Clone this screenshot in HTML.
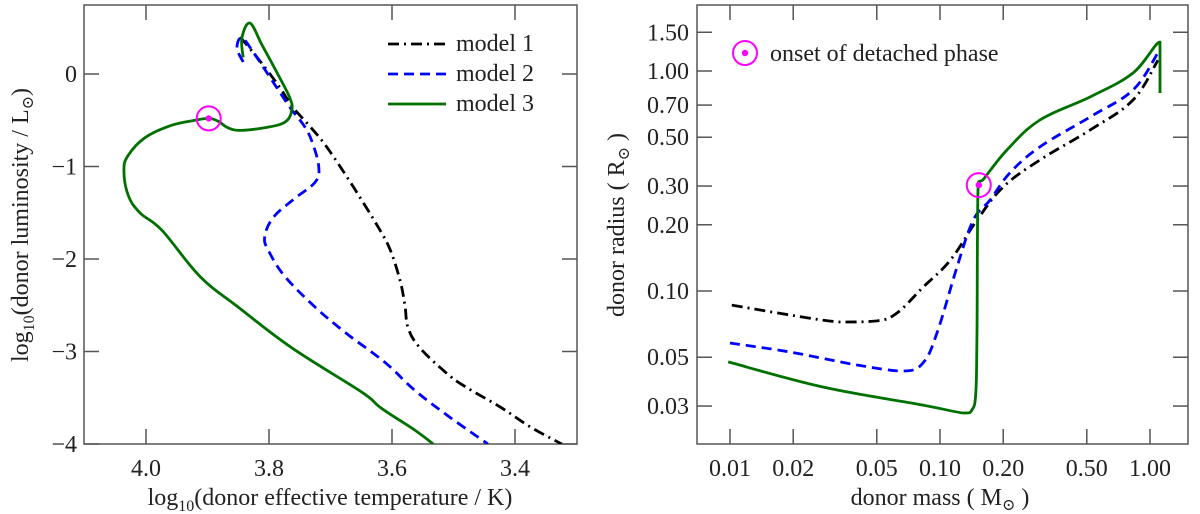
<!DOCTYPE html>
<html><head><meta charset="utf-8">
<style>
html,body{margin:0;padding:0;background:#fff;}
svg{display:block;}
svg text{font-family:"Liberation Serif","DejaVu Serif",serif;}
</style></head>
<body>
<svg id="chart" width="1200" height="514" viewBox="0 0 1200 514" xmlns="http://www.w3.org/2000/svg"></svg>
<script>
// ---- Left panel data (HR diagram) ----
const hrM1T = [3.847,3.823,3.803,3.782,3.761,3.733,3.706,3.663,3.623,3.603,3.587,3.579,3.574,3.556,3.512,3.481,3.424,3.374,3.324];
const hrM1L = [0.40,0.21,0.04,-0.15,-0.36,-0.57,-0.79,-1.22,-1.65,-1.90,-2.23,-2.50,-2.74,-2.95,-3.23,-3.38,-3.60,-3.82,-4.0];
const hrM2T = [3.842,3.852,3.844,3.823,3.790,3.766,3.741,3.728,3.719,3.725,3.761,3.793,3.807,3.800,3.774,3.725,3.675,3.611,3.563,3.506,3.444];
const hrM2L = [0.13,0.28,0.39,0.21,-0.12,-0.36,-0.58,-0.77,-1.01,-1.17,-1.36,-1.55,-1.76,-1.92,-2.19,-2.52,-2.80,-3.12,-3.42,-3.71,-4.0];
const hrM3T = [3.842,3.844,3.831,3.811,3.785,3.766,3.763,3.774,3.807,3.847,3.867,3.883,3.898,3.920,3.961,4.002,4.029,4.036,4.029,4.010,3.974,3.912,3.850,3.763,3.649,3.618,3.563,3.533];
const hrM3L = [0.18,0.39,0.55,0.31,-0.01,-0.26,-0.39,-0.52,-0.58,-0.61,-0.58,-0.51,-0.48,-0.50,-0.56,-0.69,-0.88,-1.04,-1.31,-1.50,-1.69,-2.19,-2.52,-2.96,-3.44,-3.61,-3.85,-4.0];
const hrOnset = [3.898,-0.48];
const hrXTicks = [4.0,3.8,3.6,3.4];
const hrXTickLabels = ["4.0","3.8","3.6","3.4"];
const hrYTicks = [0,-1,-2,-3,-4];
const hrYTickLabels = ["0","\u22121","\u22122","\u22123","\u22124"];
// ---- Right panel data (mass-radius) ----
const mrM1M = [0.0102,0.0193,0.0334,0.0501,0.0624,0.083,0.112,0.150,0.200,0.299,0.518,0.83,1.09];
const mrM1R = [0.0863,0.0778,0.0723,0.0731,0.0794,0.104,0.138,0.210,0.297,0.394,0.539,0.738,1.12];
const mrM2M = [0.0100,0.0193,0.0403,0.0667,0.083,0.0968,0.1205,0.144,0.173,0.215,0.299,0.518,0.83,1.09];
const mrM2R = [0.0580,0.0528,0.0461,0.0433,0.0471,0.0645,0.1285,0.210,0.259,0.344,0.452,0.618,0.820,1.21];
const mrM3M = [0.0098,0.0277,0.083,0.129,0.142,0.148,0.150,0.152,0.160,0.208,0.299,0.518,0.83,1.116,1.116];
const mrM3R = [0.0476,0.0366,0.0303,0.0279,0.0288,0.0344,0.0645,0.310,0.320,0.437,0.599,0.762,0.979,1.355,0.794];
const mrOnset = [0.153,0.303];
const mrXTicks = [0.01,0.02,0.05,0.10,0.20,0.50,1.00];
const mrXTickLabels = ["0.01","0.02","0.05","0.10","0.20","0.50","1.00"];
const mrYTicks = [1.5,1.0,0.7,0.5,0.3,0.2,0.1,0.05,0.03];
const mrYTickLabels = ["1.50","1.00","0.70","0.50","0.30","0.20","0.10","0.05","0.03"];

const NS="http://www.w3.org/2000/svg";
const svg=document.getElementById('chart');
function mk(tag,attrs,parent){const e=document.createElementNS(NS,tag);for(const k in attrs)e.setAttribute(k,attrs[k]);(parent||svg).appendChild(e);return e;}

// axis functions
const L={x0:84,x1:577,y0:5,y1:444};
const hx=t=>146+(4.0-t)*615;
const hy=l=>74-l*92.5;
const R={x0:697,x1:1188,y0:5,y1:444};
const mx=m=>730+210*Math.log10(m/0.01);
const my=r=>71-220*Math.log10(r);

const dash={m1:"11,5,2,5",m2:"10,6",m3:""};
const col={m1:"#000",m2:"#0000ff",m3:"#007000"};
const FONT='"Liberation Serif","DejaVu Serif",serif';

function panel(B,name){
  const g=mk('g',{});
  
  
  const r=mk('rect',{x:B.x0,y:B.y0,width:B.x1-B.x0,height:B.y1-B.y0,fill:'none',stroke:'#555','stroke-width':1.5},g);
  
  
  return g;
}
function smoothPath(P,clampY){
  let d='M'+P[0][0].toFixed(1)+','+P[0][1].toFixed(1);
  const k=0.18;
  const cl=(v,a,b)=>Math.max(Math.min(a,b),Math.min(Math.max(a,b),v));
  for(let i=0;i<P.length-1;i++){
    const p0=P[Math.max(0,i-1)],p1=P[i],p2=P[i+1],p3=P[Math.min(P.length-1,i+2)];
    const c1=[p1[0]+(p2[0]-p0[0])*k,p1[1]+(p2[1]-p0[1])*k];
    const c2=[p2[0]-(p3[0]-p1[0])*k,p2[1]-(p3[1]-p1[1])*k];
    if(clampY){
      c1[1]=cl(c1[1],p1[1],p2[1]);c2[1]=cl(c2[1],p1[1],p2[1]);
      c1[0]=cl(c1[0],p1[0],p2[0]);c2[0]=cl(c2[0],p1[0],p2[0]);
    }
    d+=' C'+c1[0].toFixed(1)+','+c1[1].toFixed(1)+' '+c2[0].toFixed(1)+','+c2[1].toFixed(1)+' '+p2[0].toFixed(1)+','+p2[1].toFixed(1);
  }
  return d;
}
function line(g,xs,ys,fx,fy,key,name,clampY){
  const P=xs.map((v,i)=>[fx(v),fy(ys[i])]);
  const p=mk('path',{d:smoothPath(P,clampY),fill:'none',stroke:col[key],'stroke-width':2.8,'stroke-dasharray':dash[key],'stroke-linejoin':'round'},g);
  
  
}
function marker(g,x,y,name){
  const c=mk('circle',{cx:x,cy:y,r:12,fill:'none',stroke:'#ff00ff','stroke-width':2},g);
  
  
  mk('circle',{cx:x,cy:y,r:3.2,fill:'#ff00ff'},g);
}
function text(g,x,y,s,anchor,size,name){
  const t=mk('text',{x:x,y:y,'text-anchor':anchor,'font-size':size,fill:'#222','font-family':FONT},g);
  t.textContent=s;
  
  
  return t;
}

// ---- Left panel ----
const gl=panel(L,'hr-panel');
const clipL=mk('clipPath',{id:'cl'});mk('rect',{x:L.x0,y:L.y0,width:L.x1-L.x0,height:L.y1-L.y0},clipL);
hrXTicks.forEach((t,i)=>{
  const x=hx(t);
  mk('line',{x1:x,x2:x,y1:L.y1,y2:L.y1-15,stroke:'#555','stroke-width':1.5},gl);
  mk('line',{x1:x,x2:x,y1:L.y0,y2:L.y0+15,stroke:'#555','stroke-width':1.5},gl);
  text(gl,x,476,hrXTickLabels[i],'middle',24,'x-tick-label');
});
hrYTicks.forEach((t,i)=>{
  const y=hy(t);
  mk('line',{x1:L.x0,x2:L.x0+15,y1:y,y2:y,stroke:'#555','stroke-width':1.5},gl);
  mk('line',{x1:L.x1,x2:L.x1-15,y1:y,y2:y,stroke:'#555','stroke-width':1.5},gl);
  text(gl,77,y+8,hrYTickLabels[i],'end',24,'y-tick-label');
});
const glc=mk('g',{'clip-path':'url(#cl)'},gl);
line(glc,hrM1T,hrM1L,hx,hy,'m1','hr-model-1-line',false);
line(glc,hrM2T,hrM2L,hx,hy,'m2','hr-model-2-line',false);
line(glc,hrM3T,hrM3L,hx,hy,'m3','hr-model-3-line',false);
marker(gl,hx(hrOnset[0]),hy(hrOnset[1]),'hr-onset-marker');
const xl=mk('text',{x:330,y:505,'text-anchor':'middle','font-size':24,fill:'#222','font-family':FONT},gl);
xl.innerHTML='log<tspan font-size="16" dy="6">10</tspan><tspan dy="-6">(donor effective temperature / K)</tspan>';


const yl=mk('text',{x:0,y:0,'text-anchor':'middle','font-size':24,fill:'#222','font-family':FONT,transform:'translate(28,225) rotate(-90)'},gl);
yl.innerHTML='log<tspan font-size="16" dy="6">10</tspan><tspan dy="-6">(donor luminosity / L</tspan><tspan font-size="16" dy="5">\u2299</tspan><tspan dy="-5">)</tspan>';


// legend
const leg=mk('g',{},gl);


[['m1','model 1',44],['m2','model 2',74],['m3','model 3',104]].forEach(([k,lab,y])=>{
  const e=mk('g',{},leg);
  
  
  mk('line',{x1:388,x2:446,y1:y,y2:y,stroke:col[k],'stroke-width':2.8,'stroke-dasharray':dash[k]},e);
  text(e,456,y+7,lab,'start',24,'legend-label');
});

// ---- Right panel ----
const gr=panel(R,'mass-radius-panel');
const clipR=mk('clipPath',{id:'cr'});mk('rect',{x:R.x0,y:R.y0,width:R.x1-R.x0,height:R.y1-R.y0},clipR);
mrXTicks.forEach((t,i)=>{
  const x=mx(t);
  mk('line',{x1:x,x2:x,y1:R.y1,y2:R.y1-15,stroke:'#555','stroke-width':1.5},gr);
  mk('line',{x1:x,x2:x,y1:R.y0,y2:R.y0+15,stroke:'#555','stroke-width':1.5},gr);
  text(gr,x,476,mrXTickLabels[i],'middle',24,'x-tick-label');
});
mrYTicks.forEach((t,i)=>{
  const y=my(t);
  mk('line',{x1:R.x0,x2:R.x0+15,y1:y,y2:y,stroke:'#555','stroke-width':1.5},gr);
  mk('line',{x1:R.x1,x2:R.x1-15,y1:y,y2:y,stroke:'#555','stroke-width':1.5},gr);
  text(gr,689,y+8,mrYTickLabels[i],'end',24,'y-tick-label');
});
const grc=mk('g',{'clip-path':'url(#cr)'},gr);
line(grc,mrM1M,mrM1R,mx,my,'m1','mr-model-1-line',true);
line(grc,mrM2M,mrM2R,mx,my,'m2','mr-model-2-line',true);
line(grc,mrM3M,mrM3R,mx,my,'m3','mr-model-3-line',true);
marker(gr,mx(mrOnset[0]),my(mrOnset[1]),'mr-onset-marker');
const xl2=mk('text',{x:940,y:505,'text-anchor':'middle','font-size':24,fill:'#222','font-family':FONT},gr);
xl2.innerHTML='donor mass ( M<tspan font-size="16" dy="5">\u2299</tspan><tspan dy="-5"> )</tspan>';


const yl2=mk('text',{x:0,y:0,'text-anchor':'middle','font-size':24,fill:'#222','font-family':FONT,transform:'translate(624,225) rotate(-90)'},gr);
yl2.innerHTML='donor radius ( R<tspan font-size="16" dy="5">\u2299</tspan><tspan dy="-5"> )</tspan>';


const leg2=mk('g',{},gr);


marker(leg2,745,53,'onset-legend-marker');
text(leg2,770,61,'onset of detached phase','start',24,'onset-legend-label');
</script>
</body></html>
